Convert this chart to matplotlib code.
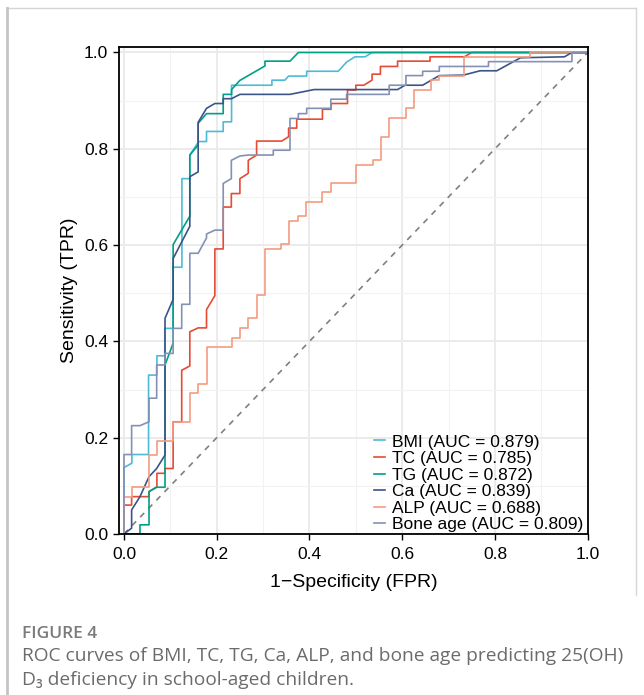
import matplotlib
matplotlib.use('Agg')
import matplotlib.pyplot as plt
from matplotlib.lines import Line2D
from matplotlib.ticker import MultipleLocator

plt.rcParams['font.family'] = ['Liberation Sans', 'DejaVu Sans']

# ROC curve vertices (1-specificity, sensitivity)
bmi_fpr = [0, 0, .017, .017, .053, .053, .071, .071, .088, .088,
           .106, .106, .125, .125, .142, .142, .161, .178, .178, .214,
           .214, .232, .232, .319, .319, .347, .355, .394, .394, .462,
           .48, .498, .52, .535, 1]
bmi_tpr = [0, .138, .147, .165, .165, .33, .33, .37, .37, .427,
           .427, .554, .554, .738, .738, .787, .815, .815, .836, .836,
           .856, .856, .932, .932, .9425, .9425, .951, .951, .961, .961,
           .98, .991, .991, 1, 1]

tc_fpr = [0, 0, .0165, .0165, .054, .054, .071, .071, .088, .088,
          .106, .106, .1245, .1245, .142, .142, .16, .178, .178, .196,
          .196, .214, .214, .2315, .2315, .25, .25, .268, .268, .286,
          .286, .34, .355, .355, .3725, .3725, .428, .428, .4466, .4466,
          .482, .482, .5, .5, .517, .535, .535, .553, .553, .59,
          .59, .66, .66, .734, .75, 1]
tc_tpr = [0, .06, .06, .0775, .0775, .088, .098, .126, .126, .136,
          .136, .233, .233, .34, .349, .42, .428, .428, .466, .495,
          .592, .592, .679, .679, .707, .707, .738, .749, .776, .787,
          .816, .816, .825, .843, .843, .8615, .8615, .882, .882, .894,
          .894, .922, .922, .932, .932, .9425, .955, .955, .971, .971,
          .982, .982, .991, .991, 1, 1]

tg_fpr = [0, .0345, .0345, .054, .054, .0705, .0885, .0885, .106, .106,
          .142, .142, .16, .16, .178, .214, .214, .232, .232, .25,
          .304, .304, .358, .376, 1]
tg_tpr = [0, 0, .019, .019, .088, .097, .097, .351, .396, .601,
          .66, .787, .808, .853, .873, .873, .913, .913, .923, .942,
          .972, .982, .982, 1, 1]

ca_fpr = [0, .0165, .0165, .0345, .054, .0705, .0885, .0885, .106, .106,
          .142, .142, .16, .16, .178, .196, .214, .214, .232, .25,
          .358, .41, .59, .606, .644, .68, .732, .768, .804, .855,
          .95, .966, 1]
ca_tpr = [0, .012, .05, .0775, .119, .136, .164, .448, .487, .572,
          .639, .742, .752, .855, .884, .894, .894, .904, .904, .913,
          .913, .923, .923, .932, .932, .952, .953, .962, .962, .989,
          .991, 1, 1]

alp_fpr = [0, 0, .0165, .0165, .054, .054, .0705, .0705, .106, .106,
           .142, .142, .16, .16, .178, .178, .232, .232, .25, .25,
           .268, .268, .286, .286, .304, .304, .339, .339, .356, .356,
           .375, .375, .393, .393, .428, .428, .447, .447, .5, .5,
           .536, .536, .554, .554, .572, .572, .608, .608, .626, .626,
           .662, .662, .68, .68, .734, .734, .876, .876, 1]
alp_tpr = [0, .0775, .0775, .098, .098, .165, .165, .194, .194, .233,
           .233, .292, .292, .311, .311, .389, .389, .406, .406, .427,
           .427, .448, .448, .496, .496, .592, .592, .603, .603, .65,
           .65, .661, .661, .69, .69, .711, .711, .728, .728, .766,
           .766, .776, .776, .825, .825, .864, .864, .884, .884, .923,
           .923, .9425, .9425, .951, .951, .991, .991, 1, 1]

bone_fpr = [0, 0, .0165, .0165, .0345, .054, .054, .0705, .0705, .0885,
            .0885, .106, .106, .1245, .1245, .142, .142, .16, .178, .178,
            .196, .214, .214, .2315, .2315, .25, .268, .322, .322, .358,
            .358, .376, .376, .394, .394, .446, .446, .48, .48, .572,
            .572, .608, .608, .644, .644, .68, .68, .786, .786, .966,
            .966, 1]
bone_tpr = [0, .165, .165, .225, .225, .233, .282, .282, .351, .351,
            .375, .375, .427, .427, .477, .477, .583, .583, .615, .623,
            .631, .631, .728, .738, .776, .785, .787, .787, .797, .797,
            .863, .863, .873, .873, .884, .884, .903, .903, .913, .913,
            .932, .932, .952, .952, .961, .961, .971, .971, .981, .981,
            1, 1]

labels = ['BMI (AUC = 0.879)', 'TC (AUC = 0.785)', 'TG (AUC = 0.872)',
          'Ca (AUC = 0.839)', 'ALP (AUC = 0.688)', 'Bone age (AUC = 0.809)']
colors = ['#4DBBD5', '#E64B35', '#00A087', '#3C5488', '#F39B7F', '#8491B4']

curves = [(bmi_fpr, bmi_tpr), (tc_fpr, tc_tpr), (tg_fpr, tg_tpr),
          (ca_fpr, ca_tpr), (alp_fpr, alp_tpr), (bone_fpr, bone_tpr)]

fig = plt.figure(figsize=(6.44, 6.95), dpi=100)
ax = fig.add_axes([0.1853, 0.2317, 0.7273, 0.7011])

ax.xaxis.set_major_locator(MultipleLocator(0.2))
ax.yaxis.set_major_locator(MultipleLocator(0.2))
ax.xaxis.set_minor_locator(MultipleLocator(0.1))
ax.yaxis.set_minor_locator(MultipleLocator(0.1))
ax.grid(which='major', color='#EBEBEB', lw=1.4)
ax.grid(which='minor', color='#F2F2F2', lw=0.8)
ax.set_axisbelow(True)

ax.plot([0, 1], [0, 1], color='#808080', lw=1.2, ls=(0, (3.5, 3.5)))

for (fx, ty), lab, col in zip(curves, labels, colors):
    ax.plot(fx, ty, color=col, lw=1.2, label=lab)

ax.set_xlim(-0.01, 1.0)
ax.set_ylim(0, 1.012)

for s in ax.spines.values():
    s.set_color('black')
    s.set_linewidth(1.3)
ax.tick_params(which='major', length=4, width=1, color='black',
               labelsize=12.5, labelcolor='black')
ax.tick_params(axis='x', which='major', pad=5.5)
ax.tick_params(axis='y', which='major', pad=4)
ax.tick_params(which='minor', length=0)

ax.set_xlabel('1\u2212Specificity (FPR)', fontsize=14, labelpad=8.5)
ax.set_ylabel('Sensitivity (TPR)', fontsize=14, labelpad=4)

ax.legend(loc='lower right', bbox_to_anchor=(0.995, 0.0), frameon=False,
          fontsize=12.5, handlelength=0.65, handletextpad=0.4,
          labelspacing=0.08, borderpad=0.1, borderaxespad=0)

# page frame of the figure
fig.add_artist(Line2D([7 / 644, 636 / 644], [1 - 8 / 695, 1 - 8 / 695],
                      color='#D6D6D6', lw=1.0, transform=fig.transFigure))
fig.add_artist(Line2D([636 / 644, 636 / 644], [1 - 8 / 695, 1 - 595 / 695],
                      color='#D6D6D6', lw=1.0, transform=fig.transFigure))
fig.add_artist(Line2D([6.5 / 644, 6.5 / 644], [1 - 8 / 695, 0],
                      color='#C4C4C4', lw=2.0, transform=fig.transFigure))

cap_font = ['Open Sans', 'DejaVu Sans']
fig.text(22 / 644, 1 - 634 / 695, 'FIGURE 4', fontsize=12.5, color='#7A7A7A',
         family=cap_font, weight='semibold', va='center')
fig.text(22 / 644, 1 - 656 / 695,
         'ROC curves of BMI, TC, TG, Ca, ALP, and bone age predicting 25(OH)',
         fontsize=13.8, color='#6B6B6B', family=cap_font, va='center')
fig.text(22 / 644, 1 - 680 / 695,
         'D\u2083 deficiency in school-aged children.',
         fontsize=13.8, color='#6B6B6B', family=cap_font, va='center')

fig.savefig('out.png', dpi=100)
